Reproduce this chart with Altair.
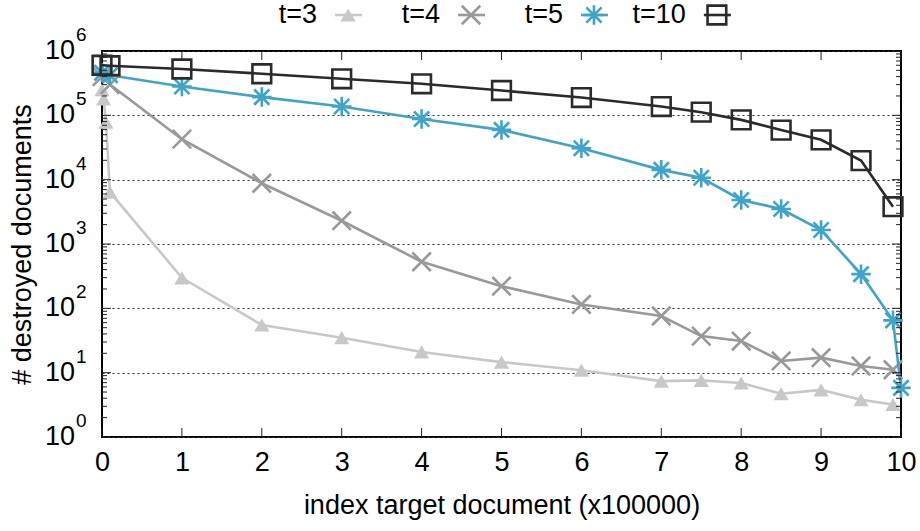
import altair as alt
import pandas as pd

FONT = "Liberation Sans"

series_names = ["t=3", "t=4", "t=5", "t=10"]
series_colors = ["#c8c8c8", "#999999", "#40a4c8", "#2b2b2b"]

x_t3 = [0, 0.02, 0.05, 0.1, 1, 2, 3, 4, 5, 6, 7, 7.5, 8, 8.5, 9, 9.5, 9.9]
y_t3 = [250000, 180000, 78000, 6400, 298, 55, 35, 21, 14.6, 10.9, 7.4, 7.6, 6.9, 4.7, 5.4, 3.8, 3.2]

x_t4 = [0, 0.1, 1, 2, 3, 4, 5, 6, 7, 7.5, 8, 8.5, 9, 9.5, 9.9]
y_t4 = [400000, 300000, 42600, 8800, 2300, 530, 221, 115, 76, 37, 31, 15.2, 17.1, 12.7, 11.1]

x_t5 = [0, 0.1, 1, 2, 3, 4, 5, 6, 7, 7.5, 8, 8.5, 9, 9.5, 9.9, 10]
y_t5 = [460000, 420000, 281000, 192000, 137000, 87500, 59400, 30800, 14200, 10700, 4830, 3500, 1650, 340, 65, 5.8]

x_t10 = [0, 0.1, 1, 2, 3, 4, 5, 6, 7, 7.5, 8, 8.5, 9, 9.5, 9.9]
y_t10 = [600000, 590000, 525000, 443000, 370000, 309000, 243000, 189000, 137000, 112000, 85000, 59000, 41600, 19800, 3800]

x_ticks = [0, 1, 2, 3, 4, 5, 6, 7, 8, 9, 10]
y_powers = [0, 1, 2, 3, 4, 5, 6]

W, H = 799, 386

rows = []
for name, xs, ys in [("t=3", x_t3, y_t3), ("t=4", x_t4, y_t4), ("t=5", x_t5, y_t5), ("t=10", x_t10, y_t10)]:
    for xv, yv in zip(xs, ys):
        rows.append({"series": name, "x": xv, "y": yv})
df = pd.DataFrame(rows)

xscale = alt.Scale(domain=[0, 10], nice=False, zero=False)
yscale = alt.Scale(type="log", domain=[1, 1e6], nice=False)

X = alt.X("x:Q", scale=xscale, axis=alt.Axis(
    values=x_ticks, format="d", labelFlush=False, labelFontSize=27, labelFont=FONT,
    labelColor="#000", ticks=False, domain=False, grid=False, labelPadding=12,
    title="index target document (x100000)", titleFont=FONT, titleFontSize=27,
    titleFontWeight="normal", titleColor="#000", titleX=W / 2, titleY=68,
    titleBaseline="middle", titleAlign="center"))
Y = alt.Y("y:Q", scale=yscale, axis=alt.Axis(
    values=[10 ** p for p in y_powers], labels=False, ticks=False, domain=False,
    grid=True, gridDash=[2, 3], gridColor="#333", gridWidth=1,
    title="# destroyed documents", titleFont=FONT, titleFontSize=27,
    titleFontWeight="normal", titleColor="#000", titleX=-80, titleY=H / 2,
    titleAngle=-90, titleBaseline="middle", titleAlign="center"))

star = "M-1,0L1,0M0,-1L0,1M-0.78,-0.78L0.78,0.78M-0.78,0.78L0.78,-0.78"
xmark = "M-1,-1L1,1M-1,1L1,-1"
marker_style = {
    "t=3": dict(shape="triangle-up", filled=True, size=230, strokeWidth=0),
    "t=4": dict(shape=xmark, filled=False, size=340, strokeWidth=2.6),
    "t=5": dict(shape=star, filled=False, size=380, strokeWidth=2.6),
    "t=10": dict(shape="square", filled=False, size=350, strokeWidth=2.6),
}

base = alt.Chart(df)
layers = []
for name, col in zip(series_names, series_colors):
    sub = base.transform_filter(alt.datum.series == name)
    layers.append(sub.mark_line(color=col, strokeWidth=2.6).encode(x=X, y=Y))
    layers.append(sub.mark_point(color=col, opacity=1, **marker_style[name]).encode(x=X, y=Y))

# inward ticks
xt_df = pd.DataFrame({"x": x_ticks})
layers.append(alt.Chart(xt_df).mark_rule(color="#222", strokeWidth=1).encode(
    x=alt.X("x:Q", scale=xscale), y=alt.value(H), y2=alt.value(H - 9)))
layers.append(alt.Chart(xt_df).mark_rule(color="#222", strokeWidth=1).encode(
    x=alt.X("x:Q", scale=xscale), y=alt.value(0), y2=alt.value(9)))

major_df = pd.DataFrame({"y": [10 ** p for p in y_powers]})
minor_df = pd.DataFrame({"y": [m * 10 ** p for p in y_powers[:-1] for m in range(2, 10)]})
for dfx, L in [(major_df, 9), (minor_df, 5)]:
    layers.append(alt.Chart(dfx).mark_rule(color="#222", strokeWidth=1).encode(
        y=alt.Y("y:Q", scale=yscale), x=alt.value(0), x2=alt.value(L)))
    layers.append(alt.Chart(dfx).mark_rule(color="#222", strokeWidth=1).encode(
        y=alt.Y("y:Q", scale=yscale), x=alt.value(W - L), x2=alt.value(W)))

# y tick labels 10^n
lab_df = pd.DataFrame({"y": [10 ** p for p in y_powers], "base": ["10"] * len(y_powers),
                       "exp": [str(p) for p in y_powers]})
layers.append(alt.Chart(lab_df).mark_text(align="right", baseline="middle", font=FONT,
                                          fontSize=27, color="#000").encode(
    y=alt.Y("y:Q", scale=yscale), x=alt.value(-27), text="base:N"))
layers.append(alt.Chart(lab_df).mark_text(align="left", baseline="middle", font=FONT,
                                          fontSize=19, color="#000", dy=-16, dx=1).encode(
    y=alt.Y("y:Q", scale=yscale), x=alt.value(-27), text="exp:N"))

main = alt.layer(*layers)

# legend (label, then sample line with marker); empty slots pad the row at both ends
leg_df = pd.DataFrame({"series": series_names})
leg_domain = [" "] + series_names + ["  "]
LX = alt.X("series:N", scale=alt.Scale(type="point", domain=leg_domain, padding=0.75), axis=None)
leg_layers = []
for name, col in zip(series_names, series_colors):
    sub = alt.Chart(leg_df).transform_filter(alt.datum.series == name)
    leg_layers.append(sub.mark_text(align="right", baseline="middle", font=FONT, fontSize=27,
                                    color="#000").encode(x=LX, y=alt.value(-36), text="series:N"))
    leg_layers.append(sub.mark_rule(color=col, strokeWidth=2.6, xOffset=18, x2Offset=45).encode(
        x=LX, x2="series:N", y=alt.value(-36)))
    leg_layers.append(sub.mark_point(color=col, opacity=1, xOffset=31, **marker_style[name]).encode(
        x=LX, y=alt.value(-36)))
legend = alt.layer(*leg_layers)

chart = alt.layer(main, legend).resolve_scale(x="independent").properties(
    width=W, height=H,
    autosize=alt.AutoSizeParams(type="none"),
    padding={"left": 102, "top": 51, "right": 19, "bottom": 94},
    background="white",
).configure_view(stroke="#000", strokeWidth=2)

chart.save("out.html", embed_options={"renderer": "svg", "actions": False})
